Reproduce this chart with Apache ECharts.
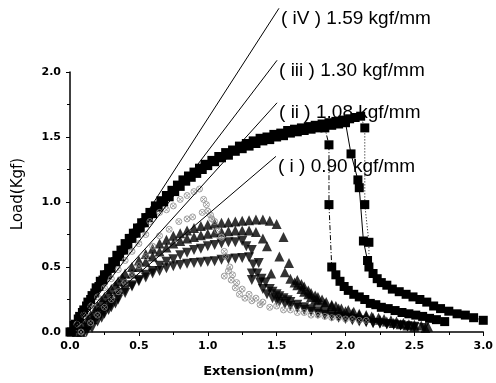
<!DOCTYPE html>
<html><head><meta charset="utf-8">
<script src="https://cdn.jsdelivr.net/npm/echarts@6/dist/echarts.min.js"></script>
<style>html,body{margin:0;padding:0;background:#fff}#c{width:496px;height:383px}</style>
</head><body><div id="c"></div>
<script>
var xTicks = [0.0, 0.5, 1.0, 1.5, 2.0, 2.5, 3.0];
var yTicks = [0.0, 0.5, 1.0, 1.5, 2.0];

var sqA = [[0,0],[0.03,0.05],[0.06,0.10],[0.09,0.15],[0.12,0.20],[0.15,0.25],[0.18,0.30],[0.21,0.35],[0.24,0.40],[0.27,0.44],[0.30,0.49],[0.33,0.54],[0.36,0.58],[0.39,0.63],[0.42,0.67],[0.45,0.72],[0.48,0.76],[0.51,0.80],[0.54,0.84],[0.57,0.88],[0.60,0.91],[0.64,0.96],[0.68,1.00],[0.72,1.04],[0.76,1.08],[0.80,1.12],[0.84,1.16],[0.88,1.19],[0.92,1.22],[0.96,1.25],[1.00,1.28],[1.05,1.31],[1.10,1.34],[1.15,1.36],[1.20,1.39],[1.25,1.41],[1.30,1.43],[1.35,1.45],[1.40,1.47],[1.45,1.48],[1.50,1.50],[1.55,1.51],[1.60,1.53],[1.65,1.54],[1.70,1.55],[1.75,1.56],[1.80,1.57],[1.85,1.57],[1.88,1.44],[1.88,0.98],[1.90,0.50],[1.93,0.44],[1.96,0.39],[1.99,0.35],[2.02,0.32],[2.06,0.29],[2.10,0.27],[2.14,0.25],[2.18,0.22],[2.22,0.21],[2.26,0.19],[2.31,0.18],[2.36,0.165],[2.41,0.15],[2.46,0.14],[2.51,0.13],[2.56,0.12],[2.61,0.105],[2.66,0.095],[2.72,0.08]];

var sqB = [[0.01,0],[0.04,0.06],[0.07,0.12],[0.10,0.17],[0.13,0.23],[0.16,0.28],[0.19,0.34],[0.22,0.39],[0.25,0.44],[0.28,0.49],[0.31,0.54],[0.34,0.59],[0.37,0.63],[0.40,0.68],[0.43,0.72],[0.46,0.76],[0.49,0.80],[0.52,0.84],[0.55,0.88],[0.58,0.92],[0.62,0.97],[0.66,1.01],[0.70,1.05],[0.74,1.09],[0.78,1.13],[0.82,1.17],[0.86,1.20],[0.90,1.23],[0.94,1.26],[0.98,1.29],[1.03,1.32],[1.08,1.35],[1.13,1.38],[1.18,1.40],[1.23,1.43],[1.28,1.45],[1.33,1.47],[1.38,1.49],[1.43,1.50],[1.48,1.52],[1.53,1.53],[1.58,1.55],[1.63,1.56],[1.68,1.57],[1.73,1.58],[1.78,1.59],[1.83,1.60],[1.88,1.61],[1.93,1.62],[1.98,1.63],[2.03,1.64],[2.07,1.65],[2.11,1.66],[2.14,1.57],[2.14,0.98],[2.17,0.69],[2.17,0.50],[2.20,0.45],[2.23,0.41],[2.26,0.38],[2.30,0.36],[2.34,0.33],[2.39,0.31],[2.44,0.29],[2.49,0.27],[2.54,0.25],[2.59,0.23],[2.64,0.20],[2.69,0.18],[2.75,0.16],[2.81,0.14],[2.87,0.13],[2.93,0.11],[3.00,0.09]];

var sqC = [[1.90,1.59],[1.95,1.60],[2.00,1.61],[2.04,1.37],[2.09,1.17],[2.10,1.11],[2.13,0.70],[2.16,0.55]];

var triUpA = [[0.05,0],[0.08,0.03],[0.10,0.06],[0.13,0.10],[0.15,0.13],[0.18,0.17],[0.20,0.20],[0.23,0.24],[0.25,0.27],[0.28,0.30],[0.30,0.33],[0.33,0.36],[0.35,0.39],[0.38,0.42],[0.40,0.45],[0.45,0.50],[0.50,0.55],[0.55,0.60],[0.60,0.64],[0.65,0.68],[0.70,0.71],[0.75,0.74],[0.80,0.76],[0.85,0.78],[0.90,0.80],[0.95,0.815],[1.00,0.825],[1.05,0.835],[1.10,0.84],[1.15,0.845],[1.20,0.85],[1.25,0.855],[1.30,0.86],[1.35,0.865],[1.40,0.865],[1.45,0.855],[1.50,0.83],[1.55,0.73],[1.59,0.53],[1.65,0.40],[1.68,0.37],[1.70,0.35],[1.73,0.32],[1.75,0.30],[1.78,0.28],[1.80,0.27],[1.83,0.25],[1.86,0.23],[1.90,0.21],[1.93,0.20],[1.97,0.18],[2.02,0.17],[2.06,0.155],[2.10,0.14],[2.15,0.13],[2.19,0.12],[2.24,0.11],[2.28,0.10],[2.33,0.09],[2.37,0.08],[2.42,0.07],[2.46,0.06],[2.50,0.055],[2.55,0.05],[2.60,0.04]];

var triUpB = [[0.08,0],[0.12,0.05],[0.16,0.10],[0.20,0.15],[0.25,0.21],[0.30,0.27],[0.35,0.33],[0.40,0.39],[0.45,0.45],[0.50,0.50],[0.55,0.54],[0.60,0.58],[0.65,0.62],[0.70,0.65],[0.75,0.68],[0.80,0.70],[0.85,0.72],[0.90,0.73],[0.95,0.745],[1.00,0.755],[1.05,0.765],[1.10,0.77],[1.15,0.775],[1.20,0.78],[1.25,0.78],[1.30,0.78],[1.35,0.77],[1.40,0.72],[1.43,0.66],[1.46,0.45],[1.52,0.58],[1.56,0.46],[1.60,0.41],[1.63,0.38],[1.65,0.36],[1.68,0.33],[1.70,0.31],[1.73,0.29],[1.75,0.27],[1.78,0.25],[1.80,0.24],[1.85,0.22],[1.90,0.20],[1.95,0.18],[2.00,0.16],[2.05,0.145],[2.10,0.13],[2.15,0.12],[2.20,0.11],[2.25,0.095],[2.30,0.08],[2.35,0.07],[2.40,0.06],[2.45,0.05],[2.50,0.04],[2.58,0.03]];

var triDownA = [[0.10,0],[0.13,0.03],[0.15,0.06],[0.18,0.09],[0.20,0.12],[0.23,0.15],[0.25,0.17],[0.28,0.20],[0.30,0.22],[0.35,0.27],[0.40,0.32],[0.45,0.36],[0.50,0.40],[0.55,0.44],[0.60,0.47],[0.65,0.51],[0.70,0.54],[0.75,0.56],[0.80,0.59],[0.85,0.61],[0.90,0.63],[0.95,0.64],[1.00,0.66],[1.05,0.67],[1.10,0.68],[1.15,0.69],[1.20,0.69],[1.25,0.70],[1.28,0.66],[1.32,0.63],[1.37,0.53],[1.32,0.45],[1.32,0.40],[1.39,0.41],[1.42,0.38],[1.45,0.33],[1.47,0.31],[1.50,0.29],[1.52,0.275],[1.55,0.26],[1.58,0.245],[1.60,0.23],[1.65,0.21],[1.70,0.19],[1.75,0.175],[1.80,0.16],[1.85,0.145],[1.90,0.13],[1.95,0.12],[2.00,0.11],[2.05,0.10],[2.10,0.09],[2.15,0.08],[2.20,0.07],[2.25,0.065],[2.30,0.06],[2.35,0.055],[2.40,0.05],[2.45,0.045],[2.50,0.04],[2.57,0.03]];

var triDownB = [[0.12,0],[0.16,0.03],[0.20,0.08],[0.23,0.11],[0.25,0.14],[0.28,0.17],[0.30,0.19],[0.33,0.22],[0.35,0.25],[0.40,0.30],[0.45,0.35],[0.50,0.39],[0.55,0.42],[0.60,0.45],[0.65,0.47],[0.70,0.49],[0.75,0.505],[0.80,0.515],[0.85,0.525],[0.90,0.53],[0.95,0.535],[1.00,0.54],[1.05,0.545],[1.10,0.555],[1.15,0.56],[1.20,0.565],[1.25,0.57],[1.30,0.575],[1.33,0.52],[1.36,0.45],[1.38,0.38],[1.40,0.33],[1.43,0.29],[1.47,0.26],[1.50,0.245],[1.52,0.23],[1.56,0.215],[1.60,0.20],[1.65,0.185],[1.70,0.17],[1.75,0.155],[1.80,0.14],[1.85,0.13],[1.90,0.12],[1.95,0.11],[2.00,0.10],[2.05,0.09],[2.10,0.08],[2.15,0.075],[2.20,0.07],[2.25,0.065],[2.30,0.06],[2.35,0.055],[2.40,0.05],[2.45,0.04],[2.50,0.035]];

var grayA = [[0.05,0.06],[0.10,0.13],[0.15,0.20],[0.20,0.27],[0.25,0.34],[0.30,0.41],[0.35,0.48],[0.40,0.55],[0.45,0.62],[0.50,0.68],[0.55,0.75],[0.58,0.85],[0.65,0.92],[0.70,0.94],[0.75,0.97],[0.80,1.02],[0.85,1.05],[0.90,1.08],[0.94,1.10],[0.97,1.02],[1.00,0.93],[1.03,0.87],[1.07,0.78],[1.10,0.73],[1.13,0.58],[1.16,0.50],[1.18,0.44],[1.21,0.38],[1.25,0.33],[1.30,0.29],[1.35,0.26],[1.40,0.23],[1.50,0.20],[1.60,0.17],[1.70,0.15],[1.80,0.13],[1.90,0.11],[2.00,0.10],[2.10,0.09]];

var grayB = [[0.08,0],[0.15,0.07],[0.20,0.13],[0.25,0.19],[0.30,0.25],[0.35,0.31],[0.40,0.38],[0.45,0.44],[0.50,0.51],[0.55,0.58],[0.60,0.66],[0.65,0.74],[0.72,0.79],[0.79,0.85],[0.85,0.87],[0.89,0.885],[0.96,0.92],[0.99,0.98],[1.02,0.90],[1.05,0.85],[1.10,0.73],[1.12,0.62],[1.12,0.43],[1.15,0.47],[1.17,0.40],[1.20,0.34],[1.23,0.29],[1.27,0.26],[1.32,0.24],[1.38,0.21],[1.45,0.19],[1.55,0.17],[1.65,0.15],[1.75,0.13],[1.85,0.12],[1.95,0.11],[2.05,0.10],[2.15,0.09]];

var fitIV = [[0,0],[1.517,2.49]];
var fitIII = [[0,0],[1.503,2.09]];
var fitII = [[0,0],[1.503,1.763]];
var fitI = [[0,0],[1.495,1.351]];
var fitNames = ['( iV ) 1.59 kgf/mm', '( iii ) 1.30 kgf/mm', '( ii ) 1.08 kgf/mm', '( i ) 0.90 kgf/mm'];

var chart = echarts.init(document.getElementById('c'), null, {renderer: 'canvas'});
var crossPath = 'path://M0,5A5,5 0 1,0 10,5A5,5 0 1,0 0,5ZM1.8,1.8L8.2,8.2M8.2,1.8L1.8,8.2';

function sqSeries(data, dash) {
  return {type: 'line', data: data, symbol: 'rect', symbolSize: 9, showAllSymbol: true, clip: false,
    itemStyle: {color: '#000'}, lineStyle: {color: '#000', width: 1, type: dash}, z: 3};
}
function triSeries(data, rot) {
  return {type: 'scatter', data: data, symbol: 'triangle', symbolSize: 10, symbolRotate: rot,
    itemStyle: {color: '#000'}, z: 2};
}
function graySeries(data) {
  return {type: 'scatter', data: data, symbol: crossPath, symbolSize: 6,
    itemStyle: {color: 'rgba(0,0,0,0)', borderColor: '#8a8a8a', borderWidth: 1}, z: 4};
}
function fitSeries(data, name) {
  return {type: 'line', data: data, symbol: 'none', clip: false, silent: true,
    lineStyle: {color: '#000', width: 1}, z: 5,
    endLabel: {show: true, formatter: name, distance: 2, offset: [0, 10], color: '#000',
      fontFamily: 'Liberation Sans', fontSize: 19}};
}

chart.setOption({
  animation: false,
  grid: {left: 70, right: 11, top: 72, bottom: 49},
  xAxis: {type: 'value', min: 0, max: 3, interval: 0.5,
    name: 'Extension(mm)', nameLocation: 'middle', nameGap: 33,
    nameTextStyle: {fontFamily: 'DejaVu Sans', fontWeight: 'bold', fontSize: 13, color: '#000', padding: [0, 36, 0, 0]},
    axisLine: {show: true, onZero: false, lineStyle: {color: '#000', width: 1.5}},
    axisTick: {show: true, inside: false, length: 4, lineStyle: {color: '#000'}},
    minorTick: {show: true, splitNumber: 2, length: 3, lineStyle: {color: '#000'}},
    splitLine: {show: false},
    axisLabel: {margin: 9, fontFamily: 'DejaVu Sans', fontWeight: 'bold', fontSize: 11, color: '#000',
      formatter: function (v) { return xTicks.indexOf(v) >= 0 ? v.toFixed(1) : ''; }}},
  yAxis: {type: 'value', min: 0, max: 2, interval: 0.5,
    name: 'Load(Kgf)', nameLocation: 'middle', nameGap: 44,
    nameTextStyle: {fontFamily: 'DejaVu Sans', fontSize: 15, color: '#000', padding: [0, 0, 0, 16]},
    axisLine: {show: true, onZero: false, lineStyle: {color: '#000', width: 1.5}},
    axisTick: {show: true, inside: false, length: 4, lineStyle: {color: '#000'}},
    minorTick: {show: true, splitNumber: 2, length: 3, lineStyle: {color: '#000'}},
    splitLine: {show: false},
    axisLabel: {margin: 9, fontFamily: 'DejaVu Sans', fontWeight: 'bold', fontSize: 11, color: '#000',
      formatter: function (v) { return yTicks.indexOf(v) >= 0 ? v.toFixed(1) : ''; }}},
  series: [
    triSeries(triDownB, 180),
    triSeries(triDownA, 180),
    triSeries(triUpB, 0),
    triSeries(triUpA, 0),
    sqSeries(sqA, [5, 2, 1, 2]),
    sqSeries(sqB, [1, 2]),
    sqSeries(sqC, 'solid'),
    graySeries(grayA),
    graySeries(grayB),
    fitSeries(fitIV, fitNames[0]),
    fitSeries(fitIII, fitNames[1]),
    fitSeries(fitII, fitNames[2]),
    fitSeries(fitI, fitNames[3])
  ]
});
</script></body></html>
